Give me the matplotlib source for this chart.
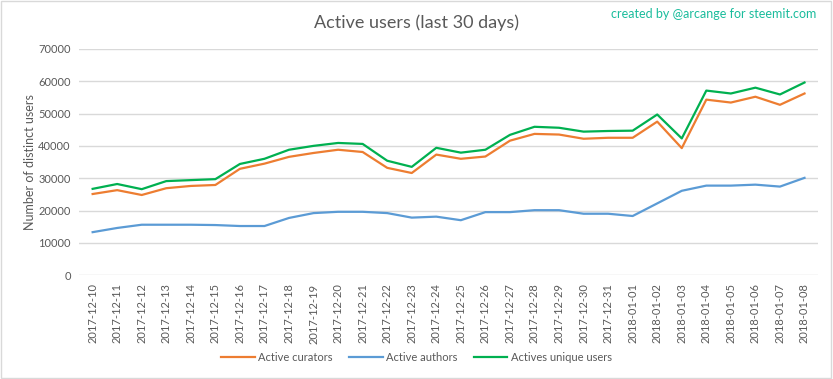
import matplotlib
matplotlib.use("Agg")
import matplotlib.pyplot as plt
from matplotlib.patches import Rectangle

dates = ["2017-12-10", "2017-12-11", "2017-12-12", "2017-12-13", "2017-12-14", "2017-12-15",
         "2017-12-16", "2017-12-17", "2017-12-18", "2017-12-19", "2017-12-20", "2017-12-21",
         "2017-12-22", "2017-12-23", "2017-12-24", "2017-12-25", "2017-12-26", "2017-12-27",
         "2017-12-28", "2017-12-29", "2017-12-30", "2017-12-31", "2018-01-01", "2018-01-02",
         "2018-01-03", "2018-01-04", "2018-01-05", "2018-01-06", "2018-01-07", "2018-01-08"]

curators = [25100, 26300, 24800, 26900, 27600, 27900, 32900, 34500, 36600, 37800, 38800, 38100,
            33200, 31600, 37300, 36000, 36700, 41600, 43700, 43500, 42200, 42500, 42500, 47500,
            39300, 54300, 53400, 55200, 52700, 56200]
authors = [13300, 14600, 15600, 15600, 15600, 15500, 15200, 15200, 17700, 19200, 19600, 19600,
           19200, 17800, 18100, 17000, 19500, 19500, 20100, 20100, 19000, 19000, 18300, 22200,
           26100, 27700, 27700, 28000, 27400, 30100]
unique = [26700, 28200, 26600, 29100, 29400, 29700, 34400, 36000, 38800, 40000, 40900, 40600,
          35400, 33500, 39400, 37900, 38800, 43400, 45900, 45600, 44400, 44600, 44700, 49700,
          42300, 57100, 56200, 58000, 55900, 59600]

yticks = [0, 10000, 20000, 30000, 40000, 50000, 60000, 70000]

plt.rcParams['font.family'] = ['Lato', 'DejaVu Sans']
gray = "#595959"

fig = plt.figure(figsize=(8.33, 3.79), dpi=100)
ax = fig.add_axes([0.095, 0.274, 0.887, 0.597])

x = list(range(len(dates)))
ax.plot(x, curators, color="#ED7D31", lw=1.6, label="Active curators")
ax.plot(x, authors, color="#5B9BD5", lw=1.6, label="Active authors")
ax.plot(x, unique, color="#00B050", lw=1.6, label="Actives unique users")

ax.set_ylim(0, 70000)
ax.set_xlim(-0.55, len(dates) - 0.45)
ax.set_yticks(yticks)
ax.set_yticklabels([str(v) for v in yticks], fontsize=8, color=gray)
ax.set_xticks(x)
ax.set_xticklabels(dates, rotation=90, fontsize=8, color=gray)
ax.tick_params(length=0, pad=6)
ax.grid(axis="y", color="#D9D9D9", lw=1)
ax.set_axisbelow(True)
for s in ax.spines.values():
    s.set_visible(False)
ax.set_ylabel("Number of distinct users", fontsize=9, color=gray, labelpad=2)

fig.text(0.5, 0.94, "Active users (last 30 days)", ha="center", va="center", fontsize=13, color=gray)
fig.text(0.98, 0.962, "created by @arcange for steemit.com", ha="right", va="center",
         fontsize=9, color="#1ABC9C")

fig.legend(loc="center", bbox_to_anchor=(0.5, 0.058), ncol=3, frameon=False, fontsize=8,
           handlelength=3, columnspacing=1.5, handletextpad=0.3, labelcolor=gray)

fig.patches.append(Rectangle((0.001, 0.002), 0.997, 0.995, transform=fig.transFigure,
                             fill=False, edgecolor="#D9D9D9", lw=1))

fig.savefig("out.png", dpi=100, facecolor="white")
